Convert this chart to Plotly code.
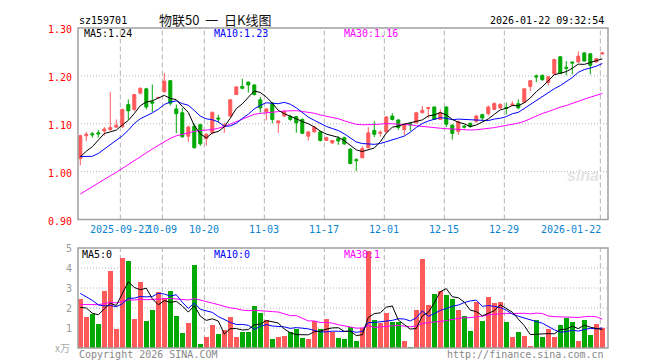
import numpy as np
import plotly.graph_objects as go

# ---------------- data ----------------
slots = list(range(88))
opens = [1.027,1.075,1.079,1.081,1.085,1.088,1.093,1.094,1.140,1.130,
         1.164,1.173,1.146,1.154,1.167,1.190,1.131,1.123,1.074,1.095,
         1.098,1.069,1.081,1.112,1.095,1.116,1.161,1.178,1.187,1.181,
         1.150,1.125,1.143,1.102,1.116,1.115,1.115,1.109,1.074,1.083,
         1.083,1.065,1.060,1.069,1.071,1.047,1.025,1.029,1.050,1.086,
         1.080,1.083,1.116,1.108,1.088,1.100,1.102,1.123,1.132,1.135,
         1.109,1.135,1.097,1.084,1.095,1.101,1.105,1.119,1.121,1.130,
         1.133,1.134,1.139,1.142,1.145,1.178,1.200,1.201,1.186,1.204,
         1.240,1.218,1.229,1.229,1.248,1.246,1.229,1.246]
highs = [1.077,1.083,1.083,1.087,1.093,1.166,1.109,1.131,1.151,1.162,
         1.176,1.175,1.182,1.155,1.206,1.191,1.140,1.133,1.096,1.100,
         1.100,1.080,1.125,1.119,1.102,1.151,1.178,1.194,1.188,1.182,
         1.156,1.132,1.145,1.107,1.127,1.119,1.116,1.111,1.084,1.095,
         1.085,1.073,1.066,1.074,1.073,1.049,1.028,1.053,1.093,1.105,
         1.086,1.116,1.122,1.109,1.101,1.102,1.125,1.137,1.135,1.136,
         1.130,1.136,1.099,1.107,1.098,1.102,1.119,1.121,1.138,1.145,
         1.143,1.144,1.147,1.151,1.173,1.190,1.203,1.203,1.199,1.236,
         1.241,1.231,1.229,1.251,1.249,1.247,1.237,1.250]
lows = [1.013,1.064,1.071,1.071,1.075,1.085,1.091,1.091,1.109,1.126,
        1.161,1.130,1.124,1.154,1.165,1.138,1.080,1.070,1.062,1.048,
        1.054,1.054,1.078,1.102,1.081,1.115,1.160,1.172,1.165,1.159,
        1.123,1.107,1.101,1.081,1.115,1.106,1.081,1.079,1.065,1.082,
        1.063,1.064,1.058,1.056,1.056,1.015,1.001,1.028,1.049,1.072,
        1.073,1.081,1.107,1.087,1.076,1.085,1.101,1.122,1.112,1.108,
        1.108,1.093,1.067,1.077,1.090,1.092,1.102,1.108,1.117,1.129,
        1.131,1.119,1.137,1.130,1.144,1.168,1.187,1.190,1.180,1.203,
        1.204,1.201,1.203,1.228,1.230,1.203,1.228,1.244]
closes = [1.075,1.078,1.077,1.079,1.089,1.092,1.097,1.130,1.127,1.161,
          1.174,1.135,1.143,1.155,1.189,1.143,1.121,1.073,1.093,1.050,
          1.058,1.078,1.124,1.110,1.097,1.150,1.177,1.174,1.181,1.161,
          1.133,1.131,1.109,1.106,1.126,1.109,1.102,1.080,1.083,1.093,
          1.065,1.071,1.065,1.064,1.058,1.017,1.023,1.048,1.081,1.078,
          1.082,1.114,1.109,1.092,1.099,1.098,1.123,1.128,1.134,1.109,
          1.123,1.099,1.080,1.104,1.093,1.094,1.116,1.112,1.135,1.142,
          1.140,1.132,1.141,1.133,1.173,1.190,1.198,1.192,1.198,1.234,
          1.205,1.216,1.227,1.241,1.231,1.222,1.236,1.248]
volumes = [2.45,1.55,1.70,1.20,2.87,3.87,0.97,4.50,4.35,1.45,
           3.30,1.35,1.90,2.80,2.50,2.87,1.60,0.75,1.25,4.15,
           0.20,0.55,1.15,0.70,0.90,1.55,0.55,0.80,0.80,2.10,
           1.75,1.40,0.45,0.55,0.60,0.80,0.95,0.50,0.45,1.35,
           0.97,1.45,0.80,0.50,0.45,1.03,0.33,1.00,4.83,1.40,
           1.23,1.75,1.30,1.30,0.33,0.05,1.90,4.47,2.15,2.70,
           2.87,2.65,2.45,1.90,1.60,0.85,2.32,1.35,2.55,2.25,
           2.32,1.30,0.55,0.80,0.60,0.10,1.40,0.55,0.95,0.55,
           1.15,1.50,1.30,0.35,1.40,0.65,1.20,1.00]
# sessions before the first visible candle (only feed the moving averages)
prior_closes = [0.84,0.85,0.85,0.86,0.87,0.88,0.88,0.89,0.90,0.91,
                0.91,0.92,0.93,0.94,0.95,0.96,0.97,0.98,0.99,1.00,
                1.07,1.08,1.02,1.00,0.99,1.02,1.03,1.01,1.02]
prior_volumes = [1.55,1.70,1.20,1.60,1.50,2.10,1.90,2.30,1.80,2.00,
                 2.20,1.70,2.10,1.90,2.40,2.00,1.80,2.10,2.00,1.95,
                 3.40,3.30,3.50,3.40,3.55,1.70,3.00,1.60,1.40]
tick_slots = [7,14,21,31,41,51,61,71,87]
tick_labels = ["2025-09-22","10-09","10-20","11-03","11-17","12-01","12-15","12-29","2026-01-22"]
price_ticks = [1.30,1.20,1.10,1.00,0.90]
vol_ticks = [5,4,3,2,1]

# ---------------- helpers ----------------
def ma(vals, prior, n):
    arr = np.array(prior + vals, float)
    k = len(prior)
    return [float(arr[i-n+1:i+1].mean()) for i in range(k, len(arr))]

W, H = 660, 360
L, R = 70, 600
MT, MB = 20, 211.5
VT, VB = 240, 340
def fx(p): return p / W
def fy(p): return 1 - p / H

RED = "#ff5a5a"
GREEN = "#00a800"
BLUE = "#0000ff"
MAG = "#ff00ff"
GRID = "#b4b4b4"
FRAME = "#a0a0a0"
MONO = "DejaVu Sans Mono"
NB = "\u00a0"

XR = [-0.383, 87.95]

fig = go.Figure()

fig.add_trace(go.Candlestick(
    x=slots, open=opens, high=highs, low=lows, close=closes,
    increasing=dict(line=dict(color=RED, width=1), fillcolor=RED),
    decreasing=dict(line=dict(color=GREEN, width=1), fillcolor=GREEN),
    whiskerwidth=0, showlegend=False, hoverinfo="skip", xaxis="x", yaxis="y"))

for n, col in [(30, MAG), (10, BLUE), (5, "#000000")]:
    fig.add_trace(go.Scatter(x=slots, y=ma(closes, prior_closes, n), mode="lines",
                             line=dict(color=col, width=1), showlegend=False,
                             hoverinfo="skip", xaxis="x", yaxis="y"))

vcolors = [RED if c >= o else GREEN for o, c in zip(opens, closes)]
fig.add_trace(go.Bar(x=slots, y=volumes, marker=dict(color=vcolors, line=dict(width=0)),
                     width=0.78, showlegend=False, hoverinfo="skip", xaxis="x2", yaxis="y2"))
for n, col in [(30, MAG), (10, BLUE), (5, "#000000")]:
    fig.add_trace(go.Scatter(x=slots, y=ma(volumes, prior_volumes, n), mode="lines",
                             line=dict(color=col, width=1), showlegend=False,
                             hoverinfo="skip", xaxis="x2", yaxis="y2"))

shapes = []
# grid
for v in [1.0, 1.1, 1.2]:
    shapes.append(dict(type="line", xref="paper", yref="y", x0=fx(L), x1=fx(R), y0=v, y1=v,
                       line=dict(color=GRID, width=1, dash="1px,2px"), layer="below"))
for v in [1, 2, 3, 4]:
    shapes.append(dict(type="line", xref="paper", yref="y2", x0=fx(L), x1=fx(R), y0=v, y1=v,
                       line=dict(color=GRID, width=1, dash="1px,2px"), layer="below"))
for s in tick_slots:
    for yr, a, b in [("paper", fy(MB), fy(MT)), ("paper", fy(VB), fy(VT))]:
        shapes.append(dict(type="line", xref="x", yref=yr, x0=s - 0.33, x1=s - 0.33, y0=a, y1=b,
                           line=dict(color=GRID, width=1, dash="5px,3px"), layer="below"))
# frames
for t, b in [(MT, MB), (VT, VB)]:
    shapes.append(dict(type="rect", xref="paper", yref="paper", x0=fx(L), x1=fx(R), y0=fy(b), y1=fy(t),
                       line=dict(color=FRAME, width=1.5), fillcolor="rgba(0,0,0,0)"))

ann = []
def text(x, y, s, color="#000", size=10, xanchor="left", family=MONO, **kw):
    ann.append(dict(x=fx(x), y=fy(y), xref="paper", yref="paper", text=s, showarrow=False,
                    xanchor=xanchor, yanchor="middle", font=dict(family=family, size=size, color=color), **kw))

text(69, 13, "sz159701")
text(149, 12, "物联50" + NB * 2 + "一" + NB * 2 + "日K线图", size=13, xanchor="left",
     family="Noto Sans CJK SC", color="#111")
text(598, 13, "2026-01-22 09:32:54", xanchor="right")
text(74, 26, "MA5:1.24")
text(204, 26, "MA10:1.23", color=BLUE)
text(334, 26, "MA30:1.16", color=MAG)
text(72, 246, "MA5:0")
text(204, 246, "MA10:0", color=BLUE)
text(334, 246, "MA30:1", color=MAG)

for v in price_ticks:
    ann.append(dict(x=fx(66), y=v, xref="paper", yref="y", text=f"{v:.2f}", showarrow=False,
                    xanchor="right", yanchor="middle", yshift=-1.5,
                    font=dict(family=MONO, size=10, color="#ff0000")))
for v in vol_ticks:
    ann.append(dict(x=fx(66), y=v, xref="paper", yref="y2", text=str(v), showarrow=False,
                    xanchor="right", yanchor="middle",
                    font=dict(family=MONO, size=10, color="#999999")))
for s, lab in zip(tick_slots, tick_labels):
    last = s == tick_slots[-1]
    ann.append(dict(x=s - 0.33 if not last else fx(595), y=fy(221.5), xref="x" if not last else "paper",
                    yref="paper", text=lab, showarrow=False,
                    xanchor="center" if not last else "right", yanchor="middle",
                    font=dict(family=MONO, size=10, color="#0a84d0")))

text(64, 339, "x万", color="#aaaaaa", xanchor="right", family="Noto Sans CJK SC", size=10)
text(69, 346, "Copyright 2026 SINA.COM", color="#888888")
text(598, 346, "http://finance.sina.com.cn", color="#888888", xanchor="right")
text(575, 167, "<i><b>sina</b></i>", color="#e4e4e4", size=16, xanchor="center", family="Liberation Sans")

fig.update_layout(
    width=W, height=H, autosize=False, margin=dict(l=0, r=0, t=0, b=0),
    paper_bgcolor="white", plot_bgcolor="white", showlegend=False,
    boxgap=0.28,
    xaxis=dict(domain=[fx(L), fx(R)], range=XR, visible=False, rangeslider=dict(visible=False), anchor="y"),
    yaxis=dict(domain=[fy(MB), fy(MT)], range=[0.9, 1.3], visible=False, anchor="x"),
    xaxis2=dict(domain=[fx(L), fx(R)], range=XR, visible=False, anchor="y2"),
    yaxis2=dict(domain=[fy(VB), fy(VT)], range=[0, 5], visible=False, anchor="x2"),
    bargap=0, shapes=shapes, annotations=ann,
)

fig.write_html("out.html")
